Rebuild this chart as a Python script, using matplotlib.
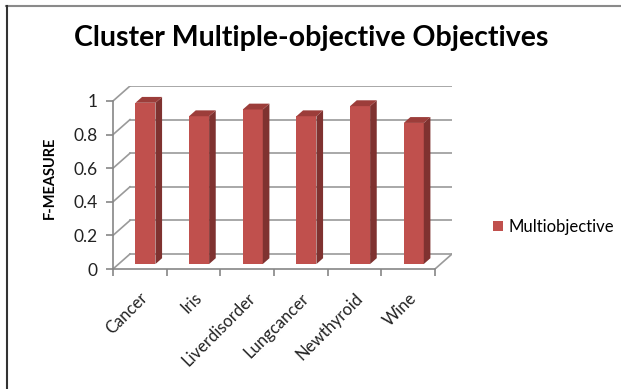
import matplotlib.pyplot as plt
from matplotlib.patches import Polygon
from matplotlib.lines import Line2D
import numpy as np

plt.rcParams['font.family'] = ['Lato', 'DejaVu Sans']

categories = ['Cancer', 'Iris', 'Liverdisorder', 'Lungcancer', 'Newthyroid', 'Wine']
f_measure = [0.96, 0.88, 0.92, 0.88, 0.94, 0.84]
yticks = [0, 0.2, 0.4, 0.6, 0.8, 1]
series_name = 'Multiobjective'

W, H = 621, 389
fig = plt.figure(figsize=(W / 100, H / 100), dpi=100)

# plot box in pixels (front axis left/bottom, back wall right/top)
left_px, right_px, bottom_px, top_px = 113, 452, 269, 86
ax = fig.add_axes([left_px / W, 1 - bottom_px / H,
                   (right_px - left_px) / W, (bottom_px - top_px) / H])

n = len(categories)
DX = 17 / 53.67   # depth offset in category units
DY = 15 / 168     # depth offset in value units
ax.set_xlim(-0.5, n - 0.5 + DX)
ax.set_ylim(0, 1 + DY)

grid_c = '#9a9a9a'
axis_c = '#868686'

# back wall gridlines and left wall slants
for v in yticks:
    ax.plot([-0.5 + DX, n - 0.5 + DX], [v + DY, v + DY], color=grid_c, lw=1.2, zorder=1)
    ax.plot([-0.5, -0.5 + DX], [v, v + DY], color=grid_c, lw=1.2, zorder=1)
# floor right edge
ax.plot([n - 0.5, n - 0.5 + DX], [0, DY], color=grid_c, lw=1.2, zorder=1)

# 3D-ish bars
f0, f1 = 0.33, 0.72
bw = 20 / 53.67
front_c, top_c, side_c = '#c0504d', '#9c3d3a', '#7f3230'
for i, v in enumerate(f_measure):
    x0 = i - bw / 2 + f0 * DX
    x1 = x0 + bw
    y0 = f0 * DY
    ddx = (f1 - f0) * DX
    ddy = (f1 - f0) * DY
    ax.add_patch(Polygon([(x0, y0), (x1, y0), (x1, v + y0), (x0, v + y0)],
                         closed=True, fc=front_c, ec='none', zorder=3))
    ax.add_patch(Polygon([(x1, y0), (x1 + ddx, y0 + ddy), (x1 + ddx, v + y0 + ddy), (x1, v + y0)],
                         closed=True, fc=side_c, ec='none', zorder=3))
    ax.add_patch(Polygon([(x0, v + y0), (x1, v + y0), (x1 + ddx, v + y0 + ddy), (x0 + ddx, v + y0 + ddy)],
                         closed=True, fc=top_c, ec='none', zorder=3))

# axes
for s in ['top', 'right']:
    ax.spines[s].set_visible(False)
ax.spines['left'].set_bounds(0, 1)
ax.spines['bottom'].set_bounds(-0.5, n - 0.5)
for s in ['left', 'bottom']:
    ax.spines[s].set_color(axis_c)
    ax.spines[s].set_linewidth(1.2)
    ax.spines[s].set_zorder(4)
ax.patch.set_alpha(0)

ax.set_yticks(yticks)
ax.set_yticklabels([f'{t:g}' for t in yticks], fontsize=12.5, color='#222222')
ax.tick_params(axis='y', length=5, width=1.2, color=axis_c, pad=6)

ax.set_xticks(np.arange(-0.5, n, 1.0), minor=True)
ax.set_xticks(np.arange(n))
ax.set_xticklabels(categories, rotation=45, ha='right', rotation_mode='anchor',
                   fontsize=12, color='#222222')
ax.tick_params(axis='x', which='major', length=0, pad=15)
ax.tick_params(axis='x', which='minor', length=5, width=1.2, color=axis_c)

ax.set_ylabel('F-MEASURE', fontsize=10.5, fontweight='bold', labelpad=12)

fig.text(0.5015, 1 - 38 / H, 'Cluster Multiple-objective Objectives',
         ha='center', va='center', fontsize=20.5, fontweight='bold')

# legend
ax.legend(handles=[plt.Rectangle((0, 0), 1, 1, fc=front_c, ec='none')],
          labels=[series_name], loc='center left', bbox_to_anchor=(478 / W, 1 - 227 / H),
          bbox_transform=fig.transFigure, frameon=False, fontsize=12,
          handlelength=0.6, handleheight=0.6, handletextpad=0.35)

# outer frame
fig.add_artist(Line2D([6 / W, 1], [1 - 6 / H, 1 - 6 / H], color='#8a8a8a', lw=1.5))
fig.add_artist(Line2D([7 / W, 7 / W], [0, 1 - 6 / H], color='#333333', lw=1.5))

fig.savefig('out.png', dpi=100)
